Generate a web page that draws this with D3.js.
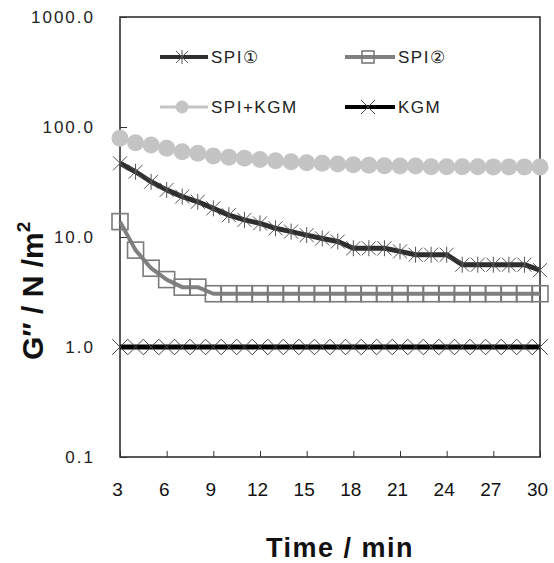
<!DOCTYPE html>
<html>
<head>
<meta charset="utf-8">
<script src="https://cdn.jsdelivr.net/npm/d3@7"></script>
<style>
  body { margin: 0; background: #fff; }
  text { font-family: "Liberation Sans", Arial, sans-serif; }
</style>
</head>
<body>
<div id="chart"></div>
<script>
// time in minutes
const time = [3, 4, 5, 6, 7, 8, 9, 10, 11, 12, 13, 14, 15, 16, 17, 18, 19, 20, 21, 22, 23, 24, 25, 26, 27, 28, 29, 30];

// G'' values (N/m2)
const spi1 = [46.8, 39.2, 31.8, 26.8, 23.3, 20.9, 18.2, 15.8, 14.3, 13.3, 12.0, 11.2, 10.4, 9.7, 9.1, 7.9, 7.9, 7.9, 7.4, 6.9, 6.9, 6.9, 5.6, 5.6, 5.6, 5.6, 5.6, 5.0];
const spi2 = [13.8, 7.6, 5.2, 4.1, 3.5, 3.5, 3.05, 3.05, 3.05, 3.05, 3.05, 3.05, 3.05, 3.05, 3.05, 3.05, 3.05, 3.05, 3.05, 3.05, 3.05, 3.05, 3.05, 3.05, 3.05, 3.05, 3.05, 3.05];
const spiKgm = [79, 72, 68.6, 64, 59.6, 57.7, 54.5, 53.1, 51.9, 50.7, 49.4, 48.3, 47.3, 46.8, 46.1, 45.4, 44.8, 44.5, 44.2, 44.2, 43.6, 43.6, 43.6, 43.6, 43.4, 43.4, 43.4, 43.4];
const kgm = [1, 1, 1, 1, 1, 1, 1, 1, 1, 1, 1, 1, 1, 1, 1, 1, 1, 1, 1, 1, 1, 1, 1, 1, 1, 1, 1, 1];

const seriesNames = ['SPI①', 'SPI②', 'SPI+KGM', 'KGM'];
const xTicks = [3, 6, 9, 12, 15, 18, 21, 24, 27, 30];
const yTicks = [0.1, 1, 10, 100, 1000];

const width = 554;
const height = 563;
const margin = {top: 17, right: 14, bottom: 106, left: 120};

const svg = d3.select('#chart')
    .append('svg')
        .attr('width', width)
        .attr('height', height);

const x = d3.scaleLinear()
    .domain([3, 30])
    .range([margin.left, width - margin.right]);

const y = d3.scaleLog()
    .domain([0.1, 1000])
    .range([height - margin.bottom, margin.top]);

// axes, ticks pointing into the plot
svg.append('g')
    .attr('transform', `translate(0, ${height - margin.bottom})`)
    .call(d3.axisBottom(x).tickValues(xTicks).tickSizeInner(-6).tickSizeOuter(0).tickPadding(26))
    .call(g => g.select('.domain').remove())
    .call(g => g.selectAll('line').attr('stroke', '#333'))
    .call(g => g.selectAll('text')
        .attr('font-size', 19)
        .attr('fill', '#111')
        .attr('dx', -3)
        .style('font-family', '"Liberation Sans", Arial, sans-serif'));

svg.append('g')
    .attr('transform', `translate(${margin.left}, 0)`)
    .call(d3.axisLeft(y).tickValues(yTicks).tickFormat(d3.format('.1f')).tickSizeInner(-7).tickSizeOuter(0).tickPadding(25))
    .call(g => g.select('.domain').remove())
    .call(g => g.selectAll('line').attr('stroke', '#333'))
    .call(g => g.selectAll('text')
        .attr('font-size', 17)
        .attr('letter-spacing', 2)
        .attr('fill', '#222')
        .style('font-family', '"Liberation Sans", Arial, sans-serif'));

// plot frame
svg.append('rect')
    .attr('x', margin.left)
    .attr('y', margin.top)
    .attr('width', width - margin.right - margin.left)
    .attr('height', height - margin.bottom - margin.top)
    .attr('fill', 'none')
    .attr('stroke', '#333')
    .attr('stroke-width', 1.6);

// marker shapes
const starPath = s => `M${-s},${-s}L${s},${s}M${-s},${s}L${s},${-s}M0,${-s - 1}L0,${s + 1}`;
const xPath = s => `M${-s},${-s}L${s},${s}M${-s},${s}L${s},${-s}`;

const styles = [
    {values: spi1, line: '#2e2e2e', lw: 5, marker: 'star', mColor: '#555'},
    {values: spi2, line: '#808080', lw: 4, marker: 'square', mColor: '#7a7a7a'},
    {values: spiKgm, line: '#c4c4c4', lw: 3, marker: 'circle', mColor: '#c4c4c4'},
    {values: kgm, line: '#000', lw: 5, marker: 'x', mColor: '#444'}
];

function drawMarker(g, type, color, big) {
    if (type === 'star') {
        g.append('path').attr('d', starPath(big ? 7 : 6)).attr('stroke', color).attr('stroke-width', 1).attr('fill', 'none');
    } else if (type === 'square') {
        const s = big ? 8 : 6;
        g.append('rect').attr('x', -s).attr('y', -s).attr('width', 2 * s).attr('height', 2 * s)
            .attr('fill', 'none').attr('stroke', color).attr('stroke-width', 1.6);
    } else if (type === 'circle') {
        g.append('circle').attr('r', big ? 8.5 : 6.5).attr('fill', color);
    } else {
        g.append('path').attr('d', xPath(big ? 7.8 : 7)).attr('stroke', color).attr('stroke-width', 1).attr('fill', 'none');
    }
}

const line = d3.line()
    .x((d, i) => x(time[i]))
    .y(d => y(d));

styles.forEach(s => {
    svg.append('path')
        .datum(s.values)
        .attr('d', line)
        .attr('fill', 'none')
        .attr('stroke', s.line)
        .attr('stroke-width', s.lw)
        .attr('stroke-linejoin', 'round');

    svg.append('g')
        .selectAll('g')
        .data(s.values)
        .join('g')
            .attr('transform', (d, i) => `translate(${x(time[i])}, ${y(d)})`)
            .each(function() { drawMarker(d3.select(this), s.marker, s.mColor, true); });
});

// legend
const legendPos = [
    {x1: 160, x2: 208, y: 57},
    {x1: 345, x2: 395, y: 57},
    {x1: 160, x2: 208, y: 107},
    {x1: 345, x2: 395, y: 107}
];

seriesNames.forEach((name, i) => {
    const p = legendPos[i];
    const s = styles[i];
    const g = svg.append('g');
    g.append('line')
        .attr('x1', p.x1).attr('x2', p.x2)
        .attr('y1', p.y).attr('y2', p.y)
        .attr('stroke', s.line)
        .attr('stroke-width', i === 2 ? 3 : 4);
    const m = g.append('g').attr('transform', `translate(${(p.x1 + p.x2) / 2 - 2}, ${p.y})`);
    drawMarker(m, s.marker, s.mColor, false);
    g.append('text')
        .attr('x', p.x2 + 3)
        .attr('y', p.y)
        .attr('dy', '0.36em')
        .attr('font-size', 17)
        .attr('letter-spacing', 1.5)
        .attr('fill', '#222')
        .text(name);
});

// axis titles
svg.append('text')
    .attr('x', 340)
    .attr('y', 557)
    .attr('text-anchor', 'middle')
    .attr('font-size', 27)
    .attr('font-weight', 'bold')
    .attr('letter-spacing', 1.5)
    .attr('fill', '#111')
    .text('Time / min');

const yTitle = svg.append('text')
    .attr('transform', 'translate(43, 360) rotate(-90)')
    .attr('text-anchor', 'start')
    .attr('font-size', 30)
    .attr('font-weight', 'bold')
    .attr('fill', '#111');
yTitle.append('tspan').text('G″ / N /m');
yTitle.append('tspan').attr('font-size', 19).attr('dy', -13).text('2');
</script>
</body>
</html>
